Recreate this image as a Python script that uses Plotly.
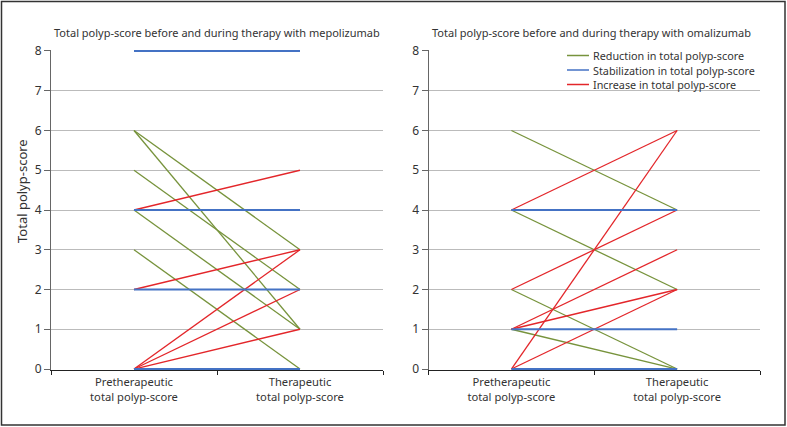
import plotly.graph_objects as go

categories = ["Pretherapeutic<br>total polyp-score", "Therapeutic<br>total polyp-score"]
y_ticks = [0, 1, 2, 3, 4, 5, 6, 7, 8]

# Mepolizumab: pre -> during therapy
mepo_pre = [6, 6, 5, 4, 3, 8, 4, 2, 0, 4, 2, 0, 0, 0]
mepo_post = [3, 1, 2, 1, 0, 8, 4, 2, 0, 5, 3, 3, 2, 1]

# Omalizumab: pre -> during therapy
oma_pre = [6, 4, 2, 1, 4, 1, 0, 4, 0, 2, 1, 1, 0]
oma_post = [4, 2, 0, 0, 4, 1, 0, 6, 6, 4, 3, 2, 2]

legend_names = ["Reduction in total polyp-score", "Stabilization in total polyp-score", "Increase in total polyp-score"]
kinds = ["down", "same", "up"]
colors = {"down": "#77933C", "same": "#4472C4", "up": "#E3262A"}

fig = go.Figure()

def add_panel(pre, post, xa, ya):
    for kind in ["down", "up", "same"]:
        for a, b in zip(pre, post):
            k = "down" if b < a else ("same" if b == a else "up")
            if k != kind:
                continue
            fig.add_trace(go.Scatter(
                x=categories, y=[a, b], mode="lines",
                line=dict(color=colors[k], width=2 if k == "same" else 1.3),
                name=legend_names[kinds.index(k)], showlegend=False,
                xaxis=xa, yaxis=ya, hoverinfo="skip"))

add_panel(mepo_pre, mepo_post, "x", "y")
add_panel(oma_pre, oma_post, "x2", "y2")

# pixel helpers (plot area: x 51..760, y 50..370)
L, R, T, B = 51, 27, 50, 57
W, H = 787, 427
PW, PH = W - L - R, H - T - B
px = lambda v: (v - L) / PW
py = lambda v: (H - B - v) / PH

font = "Noto Sans, Open Sans, sans-serif"
axis_x = dict(type="category", categoryorder="array", categoryarray=categories,
              range=[-0.5, 1.5], tickson="boundaries", ticks="outside", ticklen=4,
              tickcolor="#222", showline=True, linecolor="#222", linewidth=1,
              showgrid=False, tickfont=dict(size=11.2, color="#333"),
              ticklabelstandoff=2)
axis_y = dict(range=[-0.025, 8.025], tickvals=y_ticks, ticks="outside", ticklen=6,
              tickcolor="#666", showline=True, linecolor="#666", linewidth=1,
              showgrid=True, gridcolor="#BBBBBB", gridwidth=1, zeroline=False,
              tickfont=dict(size=12, color="#333"))

shapes = [dict(type="rect", xref="paper", yref="paper",
               x0=px(1.5), x1=px(785), y0=py(425), y1=py(1.5),
               line=dict(color="#333", width=1.5))]
# legend background and keys
shapes.append(dict(type="rect", xref="paper", yref="paper",
                   x0=px(562), x1=px(760.5), y0=py(90), y1=py(46),
                   fillcolor="white", line=dict(width=0), layer="above"))
annotations = []
legend_y = [55.5, 70, 84.5]
for k, name, yy in zip(kinds, legend_names, legend_y):
    shapes.append(dict(type="line", xref="paper", yref="paper",
                       x0=px(567), x1=px(589), y0=py(yy), y1=py(yy),
                       line=dict(color=colors[k], width=1.5), layer="above"))
    annotations.append(dict(text=name, xref="paper", yref="paper",
                            x=px(592), y=py(yy), xanchor="left", yanchor="middle",
                            showarrow=False, borderpad=0,
                            font=dict(size=10.8, color="#333")))

annotations += [
    dict(text="Total polyp-score before and during therapy with mepolizumab",
         xref="paper", yref="paper", x=px(217), y=py(33), xanchor="center", yanchor="middle",
         showarrow=False, font=dict(size=11, color="#333")),
    dict(text="Total polyp-score before and during therapy with omalizumab",
         xref="paper", yref="paper", x=px(591), y=py(33), xanchor="center", yanchor="middle",
         showarrow=False, font=dict(size=11, color="#333")),
    dict(text="Total polyp-score", textangle=-90,
         xref="paper", yref="paper", x=px(22), y=py(191), xanchor="center", yanchor="middle",
         showarrow=False, font=dict(size=13, color="#333")),
]

fig.update_layout(
    width=W, height=H,
    margin=dict(l=L, r=R, t=T, b=B, autoexpand=False),
    paper_bgcolor="white", plot_bgcolor="white",
    font=dict(family=font, color="#333"),
    xaxis=dict(domain=[0, px(383)], anchor="y", **axis_x),
    xaxis2=dict(domain=[px(428.5), 1], anchor="y2", **axis_x),
    yaxis=dict(anchor="x", **axis_y),
    yaxis2=dict(anchor="x2", **axis_y),
    showlegend=False,
    annotations=annotations,
    shapes=shapes,
)

fig.write_html("out.html", config={"displayModeBar": False, "staticPlot": True},
               post_script="document.body.style.margin='0';document.body.style.overflow='hidden';")
